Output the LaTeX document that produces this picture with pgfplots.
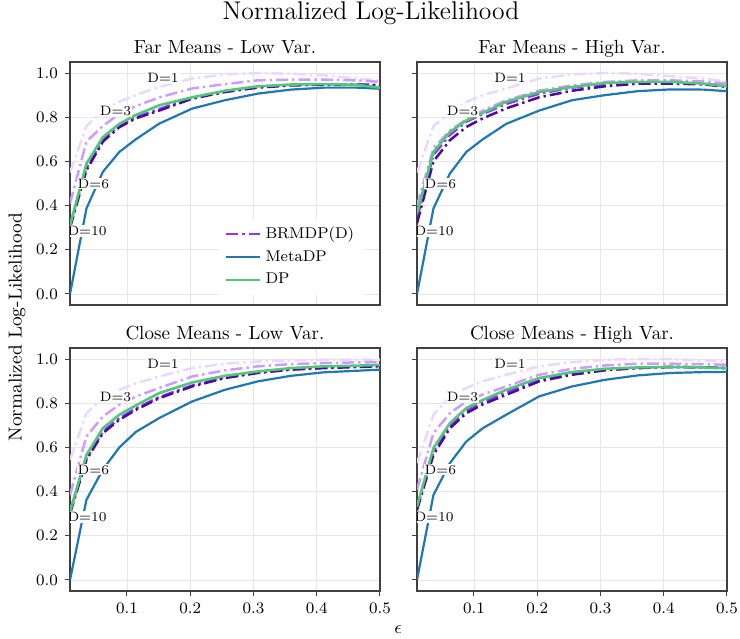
\documentclass[border=0pt]{standalone}
\usepackage{pgfplots}
\pgfplotsset{compat=1.18}
\usepackage{pgfplotstable}
\usepgfplotslibrary{groupplots}
\usetikzlibrary{calc}
\definecolor{cDa}{HTML}{EDD6FF}
\definecolor{cDb}{HTML}{CF9BFF}
\definecolor{cDc}{HTML}{9B30FF}
\definecolor{cDd}{HTML}{4B0AA0}
\definecolor{cMeta}{HTML}{1F77B4}
\definecolor{cDP}{HTML}{50C878}
\definecolor{gridc}{HTML}{E6E6E6}
\definecolor{framec}{HTML}{404040}

% columns: x MetaDP DP D10 D6 D3 D1
\pgfplotstableread{
x meta dp d10 d6 d3 d1
0.010 0.000 0.310 0.300 0.310 0.410 0.550
0.036 0.387 0.590 0.560 0.570 0.690 0.760
0.062 0.553 0.710 0.690 0.700 0.760 0.830
0.088 0.643 0.770 0.755 0.762 0.816 0.870
0.114 0.700 0.810 0.795 0.800 0.850 0.900
0.151 0.771 0.854 0.830 0.837 0.890 0.937
0.203 0.839 0.890 0.884 0.888 0.930 0.975
0.255 0.877 0.920 0.914 0.918 0.950 0.994
0.307 0.907 0.940 0.934 0.937 0.967 1.000
0.359 0.925 0.948 0.944 0.946 0.970 0.997
0.411 0.934 0.950 0.947 0.949 0.970 0.990
0.463 0.934 0.947 0.947 0.949 0.967 0.975
0.500 0.929 0.934 0.944 0.946 0.960 0.967
}\tabA
\pgfplotstableread{
x meta dp d10 d6 d3 d1
0.010 0.000 0.365 0.320 0.340 0.400 0.550
0.036 0.387 0.643 0.600 0.630 0.660 0.760
0.062 0.545 0.733 0.696 0.720 0.740 0.820
0.088 0.643 0.786 0.756 0.780 0.790 0.870
0.114 0.700 0.820 0.795 0.815 0.830 0.900
0.151 0.770 0.870 0.840 0.860 0.877 0.930
0.203 0.830 0.914 0.890 0.907 0.920 0.975
0.255 0.877 0.937 0.920 0.934 0.944 0.994
0.307 0.900 0.955 0.940 0.949 0.960 1.000
0.359 0.918 0.960 0.952 0.956 0.967 0.997
0.411 0.926 0.960 0.952 0.956 0.967 0.986
0.463 0.925 0.952 0.949 0.952 0.962 0.975
0.500 0.918 0.940 0.937 0.940 0.952 0.962
}\tabB
\pgfplotstableread{
x meta dp d10 d6 d3 d1
0.010 0.000 0.310 0.300 0.310 0.385 0.544
0.036 0.363 0.566 0.544 0.550 0.650 0.755
0.062 0.500 0.687 0.665 0.672 0.740 0.823
0.088 0.600 0.748 0.725 0.732 0.793 0.861
0.114 0.670 0.790 0.770 0.776 0.830 0.890
0.151 0.733 0.846 0.823 0.828 0.869 0.921
0.203 0.808 0.894 0.876 0.880 0.921 0.959
0.255 0.861 0.924 0.914 0.917 0.949 0.979
0.307 0.899 0.944 0.937 0.940 0.967 0.989
0.359 0.924 0.959 0.952 0.954 0.977 0.994
0.411 0.940 0.967 0.959 0.961 0.982 0.997
0.463 0.947 0.970 0.964 0.966 0.985 0.997
0.500 0.952 0.974 0.967 0.969 0.986 0.997
}\tabC
\pgfplotstableread{
x meta dp d10 d6 d3 d1
0.010 0.000 0.332 0.317 0.325 0.408 0.529
0.036 0.385 0.597 0.566 0.580 0.665 0.748
0.062 0.529 0.710 0.687 0.700 0.755 0.831
0.088 0.627 0.778 0.755 0.765 0.808 0.869
0.114 0.687 0.815 0.795 0.805 0.840 0.900
0.151 0.748 0.861 0.838 0.850 0.876 0.929
0.203 0.831 0.914 0.899 0.905 0.929 0.967
0.255 0.876 0.941 0.929 0.935 0.956 0.986
0.307 0.906 0.956 0.949 0.952 0.971 0.997
0.359 0.926 0.962 0.959 0.960 0.979 1.000
0.411 0.937 0.964 0.964 0.965 0.979 1.000
0.463 0.941 0.962 0.962 0.963 0.977 0.994
0.500 0.941 0.959 0.959 0.960 0.974 0.989
}\tabD

\tikzset{
  dd/.style={dash pattern=on 6pt off 2pt on 1.2pt off 2pt, line width=1.25pt},
  lD1/.style={dd, cDa},
  lD3/.style={dd, cDb},
  lD6/.style={dd, cDc},
  lD10/.style={dd, cDd},
  lMeta/.style={solid, cMeta, line width=1.1pt},
  lDP/.style={solid, cDP, line width=1.3pt},
  dlab/.style={font=\fontsize{6.8}{7}\selectfont, fill=white, inner sep=0.6pt},
}

\newcommand{\panel}[1]{%
  \addplot[lD1, forget plot] table[x=x,y=d1]{#1};
  \addplot[lD3, forget plot] table[x=x,y=d3]{#1};
  \addplot[lD6, forget plot] table[x=x,y=d6]{#1};
  \addplot[lD10, forget plot] table[x=x,y=d10]{#1};
  \addplot[lMeta, forget plot] table[x=x,y=meta]{#1};
  \addplot[lDP, forget plot] table[x=x,y=dp]{#1};
  \node[dlab] at (axis cs:0.157,0.978) {D=1};
  \node[dlab] at (axis cs:0.082,0.83) {D=3};
  \node[dlab] at (axis cs:0.047,0.50) {D=6};
  \node[dlab] at (axis cs:0.037,0.285) {D=10};
}

\begin{document}
\begin{tikzpicture}
\begin{groupplot}[
  group style={group size=2 by 2, horizontal sep=18.5pt, vertical sep=21.5pt,
    x descriptions at=edge bottom, y descriptions at=edge left},
  scale only axis, width=155pt, height=121.5pt,
  xmin=0.01, xmax=0.5, ymin=-0.05, ymax=1.05,
  xtick={0.1,0.2,0.3,0.4,0.5}, ytick={0,0.2,0.4,0.6,0.8,1.0},
  xtick pos=bottom, ytick pos=left,
  xticklabel style={/pgf/number format/fixed, /pgf/number format/precision=1},
  yticklabel style={/pgf/number format/fixed, /pgf/number format/fixed zerofill, /pgf/number format/precision=1},
  grid=major, major grid style={gridc, line width=0.4pt},
  axis line style={framec, line width=0.7pt},
  tick align=outside, major tick length=2.5pt, tick style={framec, line width=0.5pt},
  tick label style={font=\fontsize{7.7}{9}\selectfont},
  title style={font=\fontsize{9.5}{11}\selectfont, anchor=base, at={(0.5,1)}, yshift=-1.5pt},
  legend style={draw=none, fill=white, font=\fontsize{7.8}{9}\selectfont, at={(0.95,0.04)}, anchor=south east, row sep=0.6pt},
  legend cell align=left,
]
\nextgroupplot[title={Far Means - Low Var.}, xtick style={draw=none},
  legend image code/.code={\draw[#1] (0pt,0pt) -- (17pt,0pt);}]
  \addlegendimage{dd, cDc}
  \addlegendentry{BRMDP(D)}
  \addlegendimage{lMeta}
  \addlegendentry{MetaDP}
  \addlegendimage{lDP}
  \addlegendentry{DP}
  \panel{\tabA}
\nextgroupplot[title={Far Means - High Var.}, xtick style={draw=none}]
  \panel{\tabB}
\nextgroupplot[title={Close Means - Low Var.}]
  \panel{\tabC}
\nextgroupplot[title={Close Means - High Var.}]
  \panel{\tabD}
\end{groupplot}
\coordinate (TL) at ($(group c1r1.north west)+(-35pt,31pt)$);
\coordinate (BR) at ($(group c2r2.south east)+(6.5pt,-23.5pt)$);
\node[font=\fontsize{12.8}{15}\selectfont] at ($(TL)+(185.5pt,-6.5pt)$) {Normalized Log-Likelihood};
\node[font=\fontsize{9.4}{11}\selectfont, rotate=90] at ($(TL)+(8.5pt,-163.5pt)$) {Normalized Log-Likelihood};
\node[font=\fontsize{9.4}{11}\selectfont] at ($(TL)+(199pt,-315pt)$) {$\epsilon$};
\pgfresetboundingbox
\path[use as bounding box] (TL) rectangle (BR);
\end{tikzpicture}
\end{document}
